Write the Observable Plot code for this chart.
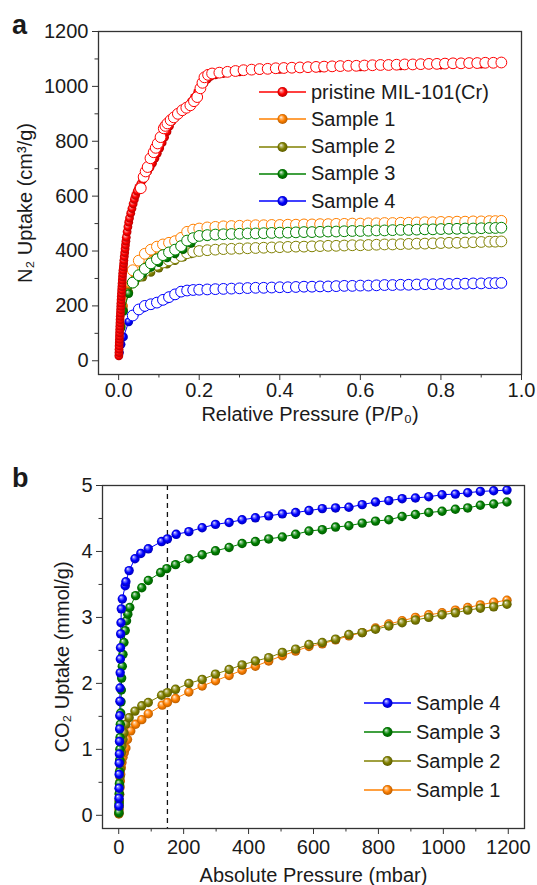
<!DOCTYPE html>
<html><head><meta charset="utf-8">
<script src="https://cdn.jsdelivr.net/npm/d3@7"></script>
<script src="https://cdn.jsdelivr.net/npm/@observablehq/plot@0.6"></script>
<style>
html,body{margin:0;padding:0;background:#fff;overflow:hidden;}
#wrap{position:relative;width:537px;height:885px;font-family:"Liberation Sans",Arial,sans-serif;color:#1a1a1a;}
#wrap > svg.plotsvg{display:block;}
.panel-label{position:absolute;font-weight:bold;font-size:27px;line-height:1;}
.legend-row{position:absolute;display:flex;align-items:center;height:24px;font-size:20px;white-space:nowrap;}
.legend-row svg{display:block;margin-right:5px;}
</style></head><body>
<div id="wrap">
<svg width="0" height="0" style="position:absolute;left:0;top:0"><defs id="grads"></defs></svg>
</div>
<script>
// ---------- colours ----------
const seriesColors = {red:"#ff0000", orange:"#ff8000", olive:"#808000", green:"#008000", blue:"#0000ff"};

// ---------- panel a : N2 isotherms ----------
const aXTicks = [0, 0.2, 0.4, 0.6, 0.8, 1.0];
const aXMinor = [0.1, 0.3, 0.5, 0.7, 0.9];
const aYTicks = [0, 200, 400, 600, 800, 1000, 1200];
const aYMinor = [100, 300, 500, 700, 900, 1100];

// pristine MIL-101(Cr), adsorption (filled)
const redAdsP = [0.0005,0.0008,0.001,0.0012,0.0015,0.0018,0.002,0.0023,0.0026,0.003,0.0033,0.0036,0.004,0.0044,0.0048,0.0052,0.0056,0.006,0.0065,0.007,0.0075,0.008,0.0085,0.009,0.0095,0.010,0.0108,0.0116,0.0124,0.013,0.014,0.015,0.016,0.017,0.018,0.019,0.021,0.023,0.025,0.027,0.030,0.033,0.036,0.039,0.042,0.046,0.050,0.055,0.060,0.066,0.072,0.078,0.084,0.090,0.096,0.102,0.108,0.114,0.120,0.126,0.132,0.140,0.148,0.156,0.164,0.172,0.180,0.188,0.196,0.204,0.212,0.220,0.228,0.240,0.260,0.300,0.350,0.400,0.500,0.600,0.700,0.800,0.900];
const redAdsV = [18,30,42,54,66,78,90,102,114,126,138,150,162,174,186,198,210,222,234,246,258,270,282,294,306,318,330,342,354,366,380,394,408,422,436,450,470,488,505,520,538,555,572,588,603,618,632,645,660,675,690,705,720,738,756,775,795,815,835,855,872,886,898,908,918,930,944,960,978,996,1012,1026,1036,1042,1047,1053,1058,1062,1067,1071,1075,1078,1081];
// pristine MIL-101(Cr), desorption (open)
const redDesP = [0.055,0.062,0.067,0.072,0.079,0.087,0.092,0.097,0.104,0.112,0.116,0.121,0.129,0.137,0.147,0.158,0.168,0.178,0.187,0.195,0.203,0.208,0.213,0.222,0.232,0.25,0.27,0.29,0.31,0.33,0.35,0.37,0.39,0.41,0.43,0.45,0.47,0.49,0.51,0.53,0.55,0.57,0.59,0.61,0.63,0.65,0.67,0.69,0.71,0.73,0.75,0.77,0.79,0.81,0.83,0.85,0.87,0.89,0.91,0.93,0.95];
const redDesV = [629,670,690,706,738,760,776,792,815,847,856,865,877,887,900,913,922,931,946,961,993,1013,1033,1042,1047,1050,1053,1056,1059,1061,1063,1064,1066,1067,1068,1069,1070,1071,1072,1073,1074,1075,1075,1076,1077,1078,1078,1079,1080,1080,1081,1082,1082,1083,1084,1084,1085,1085,1086,1086,1087];

// samples, shared pressure grids
const sampAdsP = [0.002,0.006,0.012,0.025,0.04,0.06,0.08,0.10,0.12,0.14,0.16,0.18,0.22,0.30,0.40,0.50,0.60,0.70,0.80,0.90];
const sampDesP = [0.035,0.05,0.065,0.08,0.095,0.11,0.125,0.14,0.155,0.17,0.185,0.20,0.22,0.24,0.26,0.28,0.30,0.32,0.34,0.36,0.38,0.40,0.42,0.44,0.46,0.48,0.50,0.52,0.54,0.56,0.58,0.60,0.62,0.64,0.66,0.68,0.70,0.72,0.74,0.76,0.78,0.80,0.82,0.84,0.86,0.88,0.90,0.92,0.935,0.95];

const s1AdsV = [60,130,200,275,315,345,370,392,410,422,432,460,482,490,494,498,501,504,506,508];
const s1DesV = [330,365,390,405,416,424,430,436,448,470,478,482,486,488,490,491,492,493,494,494,495,495,496,496,497,497,498,498,499,499,500,500,501,501,502,502,503,503,504,505,505,506,506,507,507,508,508,509,509,510];
const s2AdsV = [60,125,185,250,285,305,322,338,352,365,378,390,400,406,412,417,422,426,430,432];
const s2DesV = [285,308,326,340,350,358,366,374,382,392,397,400,403,405,407,408,409,410,411,412,413,414,415,416,416,417,418,419,419,420,421,421,422,423,424,424,425,426,427,427,428,429,430,430,431,432,433,434,434,435];
const s3AdsV = [60,120,180,245,290,318,340,358,375,390,405,428,452,460,465,469,473,477,480,482];
const s3DesV = [285,312,335,355,370,385,395,405,418,438,447,455,458,460,461,462,463,464,464,465,466,467,467,468,469,469,470,471,471,472,473,473,474,475,475,476,477,477,478,479,479,480,481,481,482,482,483,484,484,485];
const s4AdsV = [30,60,87,142,172,192,202,212,225,240,252,256,259,263,267,271,274,277,280,282];
const s4DesV = [165,187,200,206,212,222,232,242,252,256,258,259,260,261,262,263,264,265,266,266,267,268,268,269,270,270,271,271,272,273,273,274,274,275,276,276,277,277,278,279,279,280,280,281,281,282,282,283,283,284];

const legendA = [
  {name:"pristine MIL-101(Cr)", key:"red"},
  {name:"Sample 1", key:"orange"},
  {name:"Sample 2", key:"olive"},
  {name:"Sample 3", key:"green"},
  {name:"Sample 4", key:"blue"}
];

// ---------- panel b : CO2 isotherms ----------
const bXTicks = [0,200,400,600,800,1000,1200];
const bXMinor = [100,300,500,700,900,1100];
const bYTicks = [0,1,2,3,4,5];
const bYMinor = [0.5,1.5,2.5,3.5,4.5];
const bMarker = [150];

const b4P = [0.5,0.8,1,1.3,1.6,2,2.4,2.8,3.2,3.6,4,4.5,5,5.5,6,7,8,11,20,22,32,50,68,91,132,150,177,216,257,298,340,380,421,462,504,545,586,627,668,709,750,791,832,873,914,955,996,1037,1075,1114,1155,1196];
const b4V = [0.14,0.26,0.41,0.62,0.79,0.93,1.12,1.31,1.51,1.73,1.93,2.16,2.37,2.54,2.75,2.92,3.13,3.28,3.48,3.54,3.71,3.89,3.97,4.04,4.15,4.19,4.26,4.30,4.36,4.41,4.44,4.48,4.51,4.54,4.57,4.59,4.62,4.65,4.66,4.67,4.71,4.75,4.77,4.80,4.81,4.83,4.86,4.87,4.89,4.91,4.92,4.93];
const b3P = [0.5,1,1.5,2,2.5,3,3.5,4,5,6,7,8,9,11,13,16,20,24,28,34,52,71,91,129,148,175,216,257,298,340,380,421,462,504,545,586,627,668,709,750,791,832,873,914,955,996,1037,1075,1114,1155,1196];
const b3V = [0.04,0.18,0.33,0.48,0.66,0.84,1.0,1.18,1.38,1.55,1.72,1.9,2.08,2.26,2.44,2.62,2.8,2.95,3.05,3.15,3.33,3.45,3.56,3.68,3.74,3.80,3.89,3.95,4.01,4.06,4.12,4.15,4.19,4.22,4.26,4.31,4.33,4.37,4.39,4.43,4.46,4.48,4.53,4.56,4.59,4.61,4.64,4.66,4.70,4.72,4.75];
const b2P = [0.5,1,1.5,2,3,4,5,6,8,10,13,16,22,32,50,71,91,132,150,175,216,257,298,340,380,421,462,504,545,586,627,668,709,750,791,832,873,914,955,996,1037,1075,1114,1155,1196];
const b2V = [0.03,0.12,0.22,0.32,0.45,0.58,0.7,0.82,0.95,1.05,1.15,1.25,1.38,1.48,1.58,1.66,1.71,1.82,1.86,1.91,2.00,2.06,2.14,2.21,2.28,2.34,2.39,2.47,2.52,2.59,2.62,2.67,2.74,2.77,2.82,2.87,2.92,2.96,3.00,3.04,3.07,3.11,3.14,3.16,3.20];
const b1P = [0.5,1,1.5,2,3,4,5,6,8,10,13,17,22,27,37,52,71,91,134,150,175,216,257,298,340,380,421,462,504,545,586,627,668,709,750,791,832,873,914,955,996,1037,1075,1114,1155,1196];
const b1V = [0.02,0.08,0.15,0.22,0.32,0.42,0.52,0.62,0.72,0.8,0.88,0.95,1.02,1.15,1.28,1.38,1.45,1.54,1.67,1.71,1.77,1.87,1.96,2.04,2.12,2.20,2.26,2.34,2.42,2.49,2.56,2.60,2.66,2.72,2.77,2.84,2.90,2.95,3.00,3.04,3.07,3.11,3.15,3.19,3.23,3.26];

const legendB = [
  {name:"Sample 4", key:"blue"},
  {name:"Sample 3", key:"green"},
  {name:"Sample 2", key:"olive"},
  {name:"Sample 1", key:"orange"}
];

// ---------- helpers ----------
const FONT = "'Liberation Sans', Arial, Helvetica, sans-serif";
const FS = 20;
const wrap = document.getElementById("wrap");
const defs = document.getElementById("grads");
for (const [key, c] of Object.entries(seriesColors)) {
  const base = d3.color(c);
  const light = d3.interpolateRgb(c, "#ffffff")(0.55);
  const dark = base.darker(1.1).formatHex();
  defs.insertAdjacentHTML("beforeend",
    `<radialGradient id="g-${key}" cx="50%" cy="50%" r="55%" fx="34%" fy="30%">
       <stop offset="0%" stop-color="#ffffff"/>
       <stop offset="18%" stop-color="${light}"/>
       <stop offset="55%" stop-color="${c}"/>
       <stop offset="100%" stop-color="${dark}"/>
     </radialGradient>`);
}
const rows = (P, V) => P.map((p, i) => ({p, v: V[i]}));
const axisStyle = {stroke: "#333", fontSize: FS, label: null};
const labelStyle = {fontSize: FS, textAnchor: "middle", lineAnchor: "middle"};

// ---------- plot a ----------
const seriesA = [
  {key:"orange", ads: rows(sampAdsP, s1AdsV), des: rows(sampDesP, s1DesV)},
  {key:"olive",  ads: rows(sampAdsP, s2AdsV), des: rows(sampDesP, s2DesV)},
  {key:"green",  ads: rows(sampAdsP, s3AdsV), des: rows(sampDesP, s3DesV)},
  {key:"blue",   ads: rows(sampAdsP, s4AdsV), des: rows(sampDesP, s4DesV)},
  {key:"red",    ads: rows(redAdsP, redAdsV), des: rows(redDesP, redDesV)}
];
const marksA = [];
for (const s of seriesA) {
  const col = seriesColors[s.key];
  marksA.push(Plot.line(s.ads, {x:"p", y:"v", stroke: col, strokeWidth: 1}));
  marksA.push(Plot.dot(s.ads, {x:"p", y:"v", r: 4.4, fill: `url(#g-${s.key})`}));
  marksA.push(Plot.dot(s.des, {x:"p", y:"v", r: 5.4, fill: "white", stroke: col, strokeWidth: 1}));
}
const plotA = Plot.plot({
  width: 537, height: 440,
  marginTop: 31, marginBottom: 66, marginLeft: 98, marginRight: 16,
  x: {domain: [-0.05, 1.0], label: null},
  y: {domain: [-50, 1200], label: null},
  style: {fontFamily: FONT, color: "#1a1a1a", background: "transparent"},
  marks: [
    Plot.axisY({...axisStyle, ticks: aYTicks, tickSize: 6, tickPadding: 4, tickFormat: d3.format("d")}),
    Plot.axisY({...axisStyle, ticks: aYMinor, tickSize: 3.5, tickFormat: () => ""}),
    Plot.axisX({...axisStyle, ticks: aXTicks, tickSize: 6, tickPadding: 2, tickFormat: d3.format(".1f")}),
    Plot.axisX({...axisStyle, ticks: aXMinor, tickSize: 3.5, tickFormat: () => ""}),
    ...marksA,
    Plot.frame({stroke: "#333", strokeWidth: 1.3}),
    Plot.text(["N\u2082 Uptake (cm\u00b3/g)"], {...labelStyle, frameAnchor: "left", dx: -73, rotate: -90}),
    Plot.text(["Relative Pressure (P/P\u2080)"], {...labelStyle, frameAnchor: "bottom", dy: 40})
  ]
});
plotA.classList.add("plotsvg");
wrap.appendChild(plotA);

// ---------- plot b ----------
const seriesB = [
  {key:"orange", d: rows(b1P, b1V)},
  {key:"olive",  d: rows(b2P, b2V)},
  {key:"green",  d: rows(b3P, b3V)},
  {key:"blue",   d: rows(b4P, b4V)}
];
const marksB = [];
for (const s of seriesB) {
  marksB.push(Plot.line(s.d, {x:"p", y:"v", stroke: seriesColors[s.key], strokeWidth: 1}));
}
for (const s of seriesB) {
  marksB.push(Plot.dot(s.d, {x:"p", y:"v", r: 4.7, fill: `url(#g-${s.key})`}));
}
const plotB = Plot.plot({
  width: 537, height: 445,
  marginTop: 45, marginBottom: 57, marginLeft: 102, marginRight: 13,
  x: {domain: [-50, 1250], label: null},
  y: {domain: [-0.2, 5], label: null},
  style: {fontFamily: FONT, color: "#1a1a1a", background: "transparent"},
  marks: [
    Plot.axisY({...axisStyle, ticks: bYTicks, tickSize: 6, tickPadding: 4, tickFormat: d3.format("d")}),
    Plot.axisY({...axisStyle, ticks: bYMinor, tickSize: 3.5, tickFormat: () => ""}),
    Plot.axisX({...axisStyle, ticks: bXTicks, tickSize: 6, tickPadding: 5, tickFormat: d3.format("d")}),
    Plot.axisX({...axisStyle, ticks: bXMinor, tickSize: 3.5, tickFormat: () => ""}),
    Plot.ruleX(bMarker, {stroke: "#111", strokeWidth: 1.3, strokeDasharray: "5,4"}),
    ...marksB,
    Plot.frame({stroke: "#333", strokeWidth: 1.3}),
    Plot.text(["CO\u2082 Uptake (mmol/g)"], {...labelStyle, frameAnchor: "left", dx: -40, rotate: -90}),
    Plot.text(["Absolute Pressure (mbar)"], {...labelStyle, frameAnchor: "bottom", dy: 47})
  ]
});
plotB.classList.add("plotsvg");
wrap.appendChild(plotB);

// ---------- legends & panel labels ----------
function legend(entries, left, firstCenter, step) {
  entries.forEach((e, i) => {
    const col = seriesColors[e.key];
    const row = document.createElement("div");
    row.className = "legend-row";
    row.style.left = left + "px";
    row.style.top = (firstCenter + i * step - 12) + "px";
    row.innerHTML = `<svg width="47" height="24"><line x1="0" x2="47" y1="12" y2="12" stroke="${col}" stroke-width="1.6"/><circle cx="23.5" cy="12" r="5" fill="url(#g-${e.key})"/></svg><span>${e.name}</span>`;
    wrap.appendChild(row);
  });
}
legend(legendA, 259, 92, 27.3);
legend(legendB, 364, 703, 29);

function panelLabel(txt, left, top) {
  const el = document.createElement("div");
  el.className = "panel-label";
  el.textContent = txt;
  el.style.left = left + "px";
  el.style.top = top + "px";
  wrap.appendChild(el);
}
panelLabel("a", 12, 12);
panelLabel("b", 12, 465);
</script>
</body></html>
